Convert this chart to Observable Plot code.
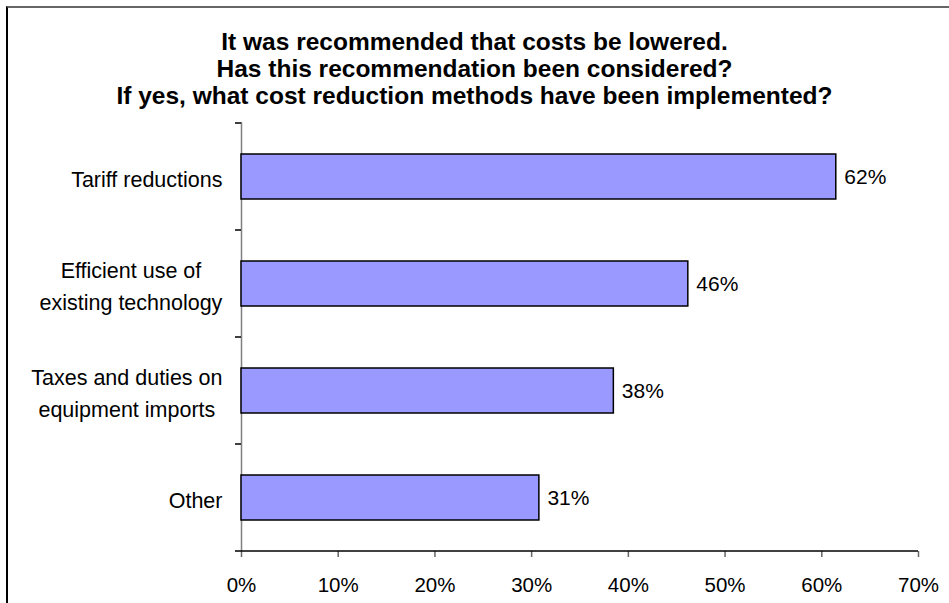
<!DOCTYPE html>
<html>
<head>
<meta charset="utf-8">
<script src="https://cdn.jsdelivr.net/npm/d3@7"></script>
<script src="https://cdn.jsdelivr.net/npm/@observablehq/plot@0.6"></script>
<style>
  html, body { margin: 0; padding: 0; background: #fff; overflow: hidden; }
  #wrap { position: relative; width: 949px; height: 603px; overflow: hidden; font-family: 'Liberation Sans', Arial, sans-serif; }
  #chart { position: absolute; left: 0; top: 0; }
  #title { position: absolute; left: 0; top: 28px; width: 949px; text-align: center; font-weight: bold; font-size: 24.5px; line-height: 27px; color: #000; }
  #border { position: absolute; left: 6px; top: 6px; width: 3000px; height: 3000px; border-left: 2px solid #000; border-top: 2px solid #666; pointer-events: none; }
</style>
</head>
<body>
<div id="wrap">
  <div id="chart"></div>
  <div id="title"></div>
  <div id="border"></div>
</div>
<script>
const titleLines = [
  "It was recommended that costs be lowered.",
  "Has this recommendation been considered?",
  "If yes, what cost reduction methods have been implemented?"
];
const categories = [
  "Tariff reductions",
  "Efficient use of\nexisting technology",
  "Taxes and duties on\nequipment imports",
  "Other"
];
const values = [0.615, 0.462, 0.385, 0.308];
const valueLabels = ["62%", "46%", "38%", "31%"];
const xTicks = [0, 0.1, 0.2, 0.3, 0.4, 0.5, 0.6, 0.7];

const data = categories.map((c, i) => ({category: c, value: values[i], label: valueLabels[i]}));

document.getElementById("title").innerHTML = titleLines.map(t => `<div>${t}</div>`).join("");

const plot = Plot.plot({
  width: 949,
  height: 603,
  marginLeft: 241,
  marginRight: 31,
  marginTop: 122,
  marginBottom: 52,
  style: {fontFamily: "'Liberation Sans', Arial, sans-serif", fontSize: "20px", color: "#000", background: "transparent"},
  x: {domain: [0, 0.7]},
  y: {domain: categories, paddingInner: 0.58, paddingOuter: 0.29},
  marks: [
    Plot.ruleX([0], {stroke: "#808080", strokeWidth: 1.5}),
    Plot.barX(data, {x: "value", y: "category", fill: "#9999ff", stroke: "#000", strokeWidth: 1.5}),
    Plot.text(data, {x: "value", y: "category", text: "label", textAnchor: "start", dx: 8, fontSize: 21, fill: "#000"}),
    Plot.axisX({ticks: xTicks, tickFormat: d3.format(".0%"), tickSize: 6, tickPadding: 20, fontSize: 20.5, label: null}),
    Plot.axisY({tickSize: 0, tickPadding: 19, fontSize: 21.5, lineHeight: 1.45, label: null})
  ]
});

document.getElementById("chart").appendChild(plot);

const svg = d3.select(plot);
svg.selectAll('g[aria-label="x-axis tick"]').attr("stroke", "#666").attr("stroke-width", 1.5);

// center multi-line category labels within their own width (right edge fixed)
svg.selectAll('g[aria-label="y-axis tick label"] text').each(function() {
  const w = this.getBBox().width;
  this.setAttribute("text-anchor", "middle");
  const tr = this.getAttribute("transform") || "";
  this.setAttribute("transform", tr + ` translate(${-w / 2},0)`);
});

const ys = plot.scale("y");
const xs = plot.scale("x");
const x0 = xs.apply(0), x1 = xs.apply(0.7);
const yRange = ys.range;
const step = ys.apply(categories[1]) - ys.apply(categories[0]);
const bw = ys.bandwidth;
const bounds = categories.map(c => ys.apply(c) - (step - bw) / 2);
bounds.push(bounds[bounds.length - 1] + step);
const g = svg.append("g");
g.selectAll("line.yt").data(bounds).join("line")
  .attr("x1", x0 - 6).attr("x2", x0).attr("y1", d => d).attr("y2", d => d)
  .attr("stroke", "#000").attr("stroke-width", 1.5);
g.append("line")
  .attr("x1", x0).attr("x2", x1).attr("y1", yRange[1]).attr("y2", yRange[1])
  .attr("stroke", "#000").attr("stroke-width", 1.5);
</script>
</body>
</html>
